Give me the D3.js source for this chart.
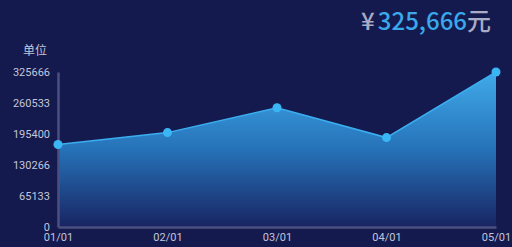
<!DOCTYPE html>
<html>
<head>
<meta charset="utf-8">
<script src="https://cdn.jsdelivr.net/npm/d3@7"></script>
<style>
  html, body { margin: 0; padding: 0; background: #141a4d; }
  svg { display: block; }
  text { font-family: "Noto Sans CJK SC", "Noto Sans", sans-serif; }
</style>
</head>
<body>
<div id="chart"></div>
<script>
var dates = ["01/01", "02/01", "03/01", "04/01", "05/01"];
var values = [173300, 198300, 250500, 187900, 325666];
var yTicks = [0, 65133, 130266, 195400, 260533, 325666];
var total = "325,666";

var width = 512, height = 247;
var margin = { left: 58, right: 496, top: 72, bottom: 227 };

var svg = d3.select("#chart").append("svg")
  .attr("width", width)
  .attr("height", height);

var x = d3.scalePoint().domain(dates).range([margin.left, margin.right]);
var y = d3.scaleLinear().domain([0, 325666]).range([margin.bottom, margin.top]);

// gradient for the area
var defs = svg.append("defs");
var grad = defs.append("linearGradient")
  .attr("id", "areaGrad")
  .attr("gradientUnits", "userSpaceOnUse")
  .attr("x1", 0).attr("y1", margin.top).attr("x2", 0).attr("y2", margin.bottom);
grad.append("stop").attr("offset", "0%").attr("stop-color", "#40aaea");
grad.append("stop").attr("offset", "50%").attr("stop-color", "#2672b8");
grad.append("stop").attr("offset", "100%").attr("stop-color", "#182462");

var data = dates.map(function(d, i) { return { date: d, value: values[i] }; });

var area = d3.area()
  .x(function(d) { return x(d.date); })
  .y0(margin.bottom)
  .y1(function(d) { return y(d.value); });

var line = d3.line()
  .x(function(d) { return x(d.date); })
  .y(function(d) { return y(d.value); });

svg.append("path")
  .datum(data)
  .attr("d", area)
  .attr("fill", "url(#areaGrad)");

svg.append("path")
  .datum(data)
  .attr("d", line)
  .attr("fill", "none")
  .attr("stroke", "#3aaef0")
  .attr("stroke-width", 1.5);

// axes
var yAxis = svg.append("g")
  .attr("transform", "translate(" + margin.left + ",0)")
  .call(d3.axisLeft(y).tickValues(yTicks).tickFormat(d3.format("d")).tickSize(0).tickPadding(8));
yAxis.select(".domain").attr("stroke", "#4b4f80").attr("stroke-width", 2.5);
yAxis.selectAll("text")
  .attr("fill", "#c3c6da")
  .style("font-size", "11px")
  .style("font-family", "Roboto, sans-serif");

var xAxis = svg.append("g")
  .attr("transform", "translate(0," + margin.bottom + ")")
  .call(d3.axisBottom(x).tickSize(0).tickPadding(6));
xAxis.select(".domain").attr("stroke", "#4b4f80").attr("stroke-width", 2.5);
xAxis.selectAll("text")
  .attr("fill", "#c3c6da")
  .style("font-size", "11px")
  .style("font-family", "Roboto, sans-serif");

// points
svg.selectAll("circle.pt")
  .data(data)
  .enter().append("circle")
  .attr("class", "pt")
  .attr("cx", function(d) { return x(d.date); })
  .attr("cy", function(d) { return y(d.value); })
  .attr("r", 4.5)
  .attr("fill", "#3ab6f4");

// unit label
svg.append("text")
  .attr("x", 35).attr("y", 55)
  .attr("text-anchor", "middle")
  .attr("fill", "#c3c6da")
  .style("font-size", "12px")
  .text("单位");

// total
var t = svg.append("text")
  .attr("x", 491).attr("y", 30)
  .attr("text-anchor", "end")
  .style("font-size", "24px")
  .style("font-weight", "500");
t.append("tspan").attr("fill", "#a9acc4").text("¥");
t.append("tspan").attr("fill", "#3aa8ea").attr("dx", 3).text(total);
t.append("tspan").attr("fill", "#a9acc4").text("元");
</script>
</body>
</html>
